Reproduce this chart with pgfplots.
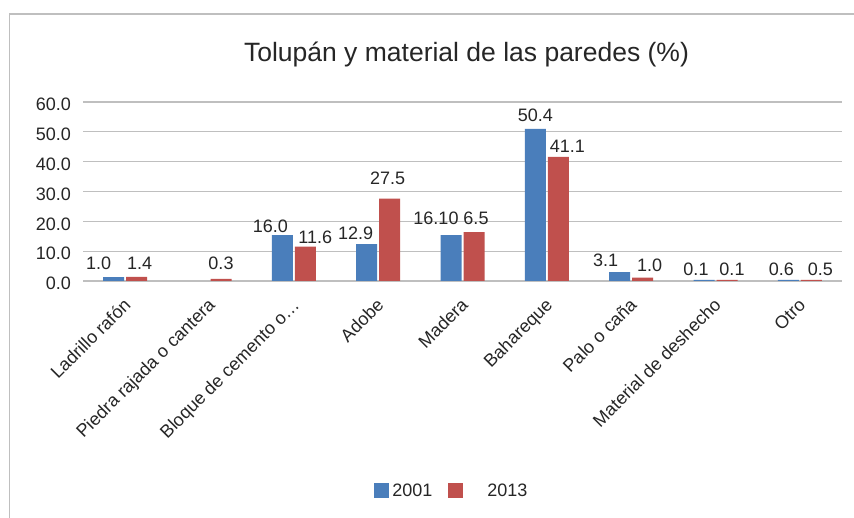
\documentclass[border=0pt]{standalone}
\usepackage{fontspec}
\setmainfont{Liberation Sans}
\usepackage{pgfplots}
\usepackage{pgfplotstable}
\pgfplotsset{compat=1.18}
\definecolor{cblue}{RGB}{74,126,187}
\definecolor{cred}{RGB}{192,80,77}
\definecolor{cgrid}{RGB}{191,191,191}
\definecolor{ctext}{RGB}{38,38,38}

\pgfplotstableread{
x y lab dx dy
0 1.3 1.0 -15 7
2 15.4 16.0 -12 2
3 12.4 12.9 -11 4
4 15.4 16.10 -15 10
5 51.0 50.4 0 7
6 3.0 3.1 -14 5
7 0.4 0.1 -8 4
8 0.4 0.6 -7 4
}\tA

\pgfplotstableread{
x y lab dx dy
0 1.4 1.4 3 7
1 0.7 0.3 0 9
2 11.5 11.6 10 3
3 27.6 27.5 -2 14
4 16.4 6.5 2 7
5 41.6 41.1 9 4
6 1.1 1.0 7 6
7 0.4 0.1 5 4
8 0.4 0.5 9 4
}\tB

\begin{document}
\begin{tikzpicture}
\path[use as bounding box] (0pt,0pt) rectangle (854pt,518pt);
\fill[white] (0pt,0pt) rectangle (854pt,518pt);
\draw[cgrid, line width=1.3pt] (9.5pt,0pt) -- (9.5pt,504pt) -- (854pt,504pt);
\node[anchor=base, font=\fontsize{26.5}{30}\selectfont, text=ctext] at (466.5pt,456pt) {Tolupán y material de las paredes (\%)};
\begin{axis}[
  at={(83pt,237pt)}, anchor=south west,
  scale only axis, width=759pt, height=179pt,
  xmin=-0.5, xmax=8.5, ymin=0, ymax=60,
  ytick={0,10,...,60},
  yticklabel={\pgfmathprintnumber[fixed,fixed zerofill,precision=1]{\tick}},
  /pgf/number format/assume math mode=true,
  xtick={0,...,8},
  xticklabels={Ladrillo rafón, Piedra rajada o cantera, Bloque de cemento o…, Adobe, Madera, Bahareque, Palo o caña, Material de deshecho, Otro},
  ybar=2pt, bar width=21pt,
  axis line style={draw=none},
  major tick length=0pt,
  ymajorgrids, grid style={cgrid, line width=1.2pt},
  tick label style={text=ctext},
  yticklabel style={font=\fontsize{18}{21}\selectfont, inner sep=0pt, anchor=east, xshift=-12pt, yshift=-2.5pt},
  xticklabel style={font=\fontsize{18}{21}\selectfont, inner sep=0pt, xshift=3.5pt, yshift=-22pt, rotate=45, anchor=east, text height=13.5pt, text depth=4.5pt},
  legend style={at={(0.4848,-1.1732)}, anchor=center, draw=none, fill=none, font=\fontsize{18}{21}\selectfont, text=ctext, legend columns=2,
    nodes={inner sep=0pt},
    /tikz/every odd column/.append style={column sep=3pt},
    /tikz/every even column/.append style={column sep=16pt}},
  clip=false,
]
\addplot[fill=cblue, draw=none,
  nodes near coords, point meta=explicit symbolic,
  visualization depends on={\thisrow{dx}\as\mydx},
  visualization depends on={\thisrow{dy}\as\mydy},
  nodes near coords style={font=\fontsize{18}{21}\selectfont, text=ctext, inner sep=0pt, anchor=south, xshift=\mydx pt, yshift=\mydy pt},
  legend image code/.code={\fill[cblue] (0pt,-7.5pt) rectangle (15pt,7.5pt);}] table[x=x, y=y, meta=lab] {\tA};
\addlegendentry{2001}
\addplot[fill=cred, draw=none,
  nodes near coords, point meta=explicit symbolic,
  visualization depends on={\thisrow{dx}\as\mydx},
  visualization depends on={\thisrow{dy}\as\mydy},
  nodes near coords style={font=\fontsize{18}{21}\selectfont, text=ctext, inner sep=0pt, anchor=south, xshift=\mydx pt, yshift=\mydy pt},
  legend image code/.code={\fill[cred] (0pt,-7.5pt) rectangle (15pt,7.5pt);}] table[x=x, y=y, meta=lab] {\tB};
\addlegendentry{\hspace{21pt}2013}
\end{axis}
\end{tikzpicture}
\end{document}
